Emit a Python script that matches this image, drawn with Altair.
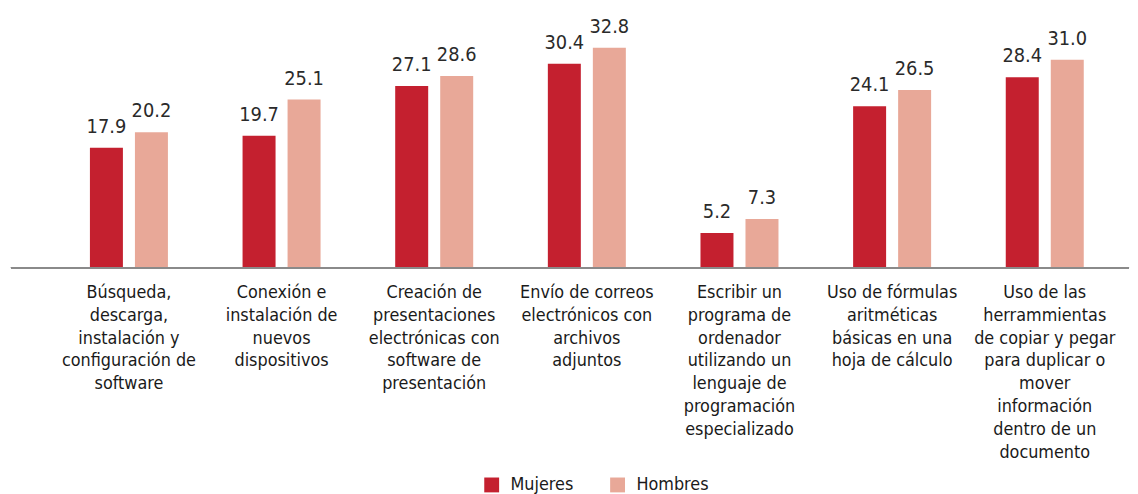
import altair as alt
import pandas as pd

FONT = "Liberation Sans Narrow, DejaVu Sans Condensed, Roboto, sans-serif"

categorias = [
    "Búsqueda,|descarga,|instalación y|configuración de|software",
    "Conexión e|instalación de|nuevos|dispositivos",
    "Creación de|presentaciones|electrónicas con|software de|presentación",
    "Envío de correos|electrónicos con|archivos|adjuntos",
    "Escribir un|programa de|ordenador|utilizando un|lenguaje de|programación|especializado",
    "Uso de fórmulas|aritméticas|básicas en una|hoja de cálculo",
    "Uso de las|herrammientas|de copiar y pegar|para duplicar o|mover|información|dentro de un|documento",
]
mujeres = [17.9, 19.7, 27.1, 30.4, 5.2, 24.1, 28.4]
hombres = [20.2, 25.1, 28.6, 32.8, 7.3, 26.5, 31.0]
series = ["Mujeres", "Hombres"]
colores = ["#C4202F", "#E8A898"]

rows = []
for c, m, h in zip(categorias, mujeres, hombres):
    rows.append({"cat": c, "serie": series[0], "valor": m})
    rows.append({"cat": c, "serie": series[1], "valor": h})
df = pd.DataFrame(rows)

x = alt.X(
    "cat:N",
    sort=categorias,
    scale=alt.Scale(paddingInner=0.489, paddingOuter=0.2445),
    axis=alt.Axis(
        title=None, labelAngle=0, domain=False, ticks=False,
        labelExpr="split(datum.label, '|')",
        labelFontSize=18, labelLineHeight=23, labelPadding=16,
        labelColor="#1a1a1a", labelFont=FONT, labelLimit=300,
    ),
)
xo = alt.XOffset("serie:N", sort=series, scale=alt.Scale(paddingInner=0.267, paddingOuter=0))
y = alt.Y("valor:Q", scale=alt.Scale(domain=[0, 38.4]), axis=None)
color = alt.Color(
    "serie:N", sort=series,
    scale=alt.Scale(domain=series, range=colores),
    legend=alt.Legend(
        title=None, orient="none", legendX=434, legendY=470, direction="horizontal",
        symbolType="square", symbolSize=225, symbolStrokeWidth=0, labelFontSize=18,
        labelFont=FONT, labelColor="#1a1a1a", columnPadding=35, labelOffset=10,
    ),
)

base = alt.Chart(df).encode(x=x, xOffset=xo, y=y)
bars = base.mark_bar().encode(color=color)
labels = base.mark_text(baseline="alphabetic", dy=-15, fontSize=20, font=FONT, color="#2a2a2a").encode(
    text=alt.Text("valor:Q", format=".1f")
)
axis_line = alt.Chart(df).mark_rule(color="#8a8a8a", strokeWidth=2).encode(
    x=alt.value(-42), x2=alt.value(1086), y=alt.value(260)
)

chart = alt.layer(bars, labels, axis_line).properties(
    width=1078, height=260, background="white",
    padding={"left": 2, "right": 0, "top": 0, "bottom": 5},
).configure_view(stroke=None)

chart.save("out.html", embed_options={"renderer": "svg", "actions": False})
